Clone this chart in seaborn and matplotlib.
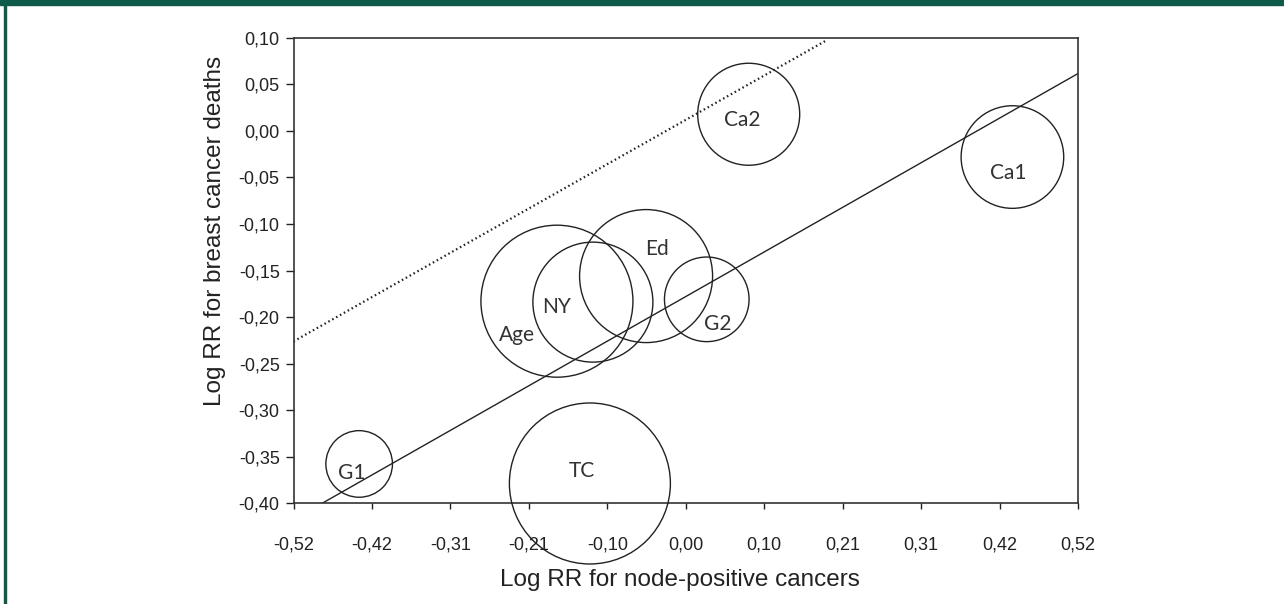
import numpy as np
import pandas as pd
import matplotlib
matplotlib.use("Agg")
import matplotlib.pyplot as plt
import seaborn as sns
from matplotlib.patches import Rectangle


# bubble data: centre (log RR node-positive, log RR deaths) and relative size
labels = ["Ca1", "Ca2", "Ed", "NY", "Age", "G2", "G1", "TC"]
log_rr_node_pos = [0.436, 0.084, -0.053, -0.124, -0.172, 0.028, -0.436, -0.128]
log_rr_deaths = [-0.028, 0.018, -0.156, -0.184, -0.183, -0.181, -0.358, -0.379]
bubble_radius = [51.3, 51.0, 66.5, 60.0, 76.0, 42.3, 33.3, 80.5]

# fitted lines: (intercept, slope, x end)
solid_fit = (-0.178, 0.458, 0.5236)
dotted_fit = (0.012, 0.455, 0.188)

x_tick_labels = ["-0,52", "-0,42", "-0,31", "-0,21", "-0,10", "0,00",
                 "0,10", "0,21", "0,31", "0,42", "0,52"]
y_tick_labels = ["-0,40", "-0,35", "-0,30", "-0,25", "-0,20", "-0,15",
                 "-0,10", "-0,05", "0,00", "0,05", "0,10"]

# label offsets from bubble centre, in pixels (right, down)
label_offsets = {
    "Ca1": (-4, 16), "Ca2": (-6, 6), "Ed": (11, -27), "NY": (-36, 5),
    "Age": (-40, 34), "G2": (11, 25), "G1": (-7, 9), "TC": (-8, -12),
}

DPI = 100
INK = "#222222"

sns.set_style("ticks")
plt.rcParams["font.family"] = ["Liberation Sans", "DejaVu Sans"]

fig = plt.figure(figsize=(12.84, 6.04), dpi=DPI)
ax = fig.add_axes([0.2286, 0.1672, 0.611, 0.7699])

# green frame of the journal figure
fig.patches.append(Rectangle((0, 1 - 5 / 604), 1, 5 / 604, transform=fig.transFigure,
                             color="#0e5b49", zorder=0))
fig.patches.append(Rectangle((4 / 1284, 0), 2 / 1284, 1, transform=fig.transFigure,
                             color="#0e5b49", zorder=0))

df = pd.DataFrame({"x": log_rr_node_pos, "y": log_rr_deaths,
                   "r": bubble_radius, "label": labels})
sizes = (2 * df["r"] * 72 / DPI) ** 2
sns.scatterplot(data=df, x="x", y="y", s=sizes, marker="o", facecolors="none",
                edgecolor=INK, linewidth=1.0, legend=False, ax=ax, zorder=3,
                clip_on=False)

xmin, xmax = -np.pi / 6, np.pi / 6
b, m, xe = solid_fit
sns.lineplot(x=[xmin, xe], y=[b + m * xmin, b + m * xe], color=INK,
             linewidth=1.0, ax=ax)
b, m, xe = dotted_fit
sns.lineplot(x=[xmin, xe], y=[b + m * xmin, b + m * xe], color=INK,
             linewidth=1.6, linestyle=(0, (0.7, 1.3)), ax=ax)

for _, row in df.iterrows():
    dx, dy = label_offsets[row["label"]]
    ax.annotate(row["label"], (row["x"], row["y"]),
                xytext=(dx * 72 / DPI, -dy * 72 / DPI), textcoords="offset points",
                ha="center", va="center", fontsize=15, color="#333333",
                family=["Lato", "DejaVu Sans"])

ax.set_xlim(xmin, xmax)
ax.set_ylim(-0.40, 0.10)
ax.set_xticks(np.linspace(xmin, xmax, 11))
ax.set_xticklabels(x_tick_labels)
ax.set_yticks(np.linspace(-0.40, 0.10, 11))
ax.set_yticklabels(y_tick_labels)
ax.tick_params(axis="x", length=4, width=1, pad=20, labelsize=13, colors="#222222")
ax.tick_params(axis="y", length=6, width=1, pad=4, labelsize=13, colors="#222222")

for side in ["top", "right", "bottom", "left"]:
    ax.spines[side].set_visible(True)
    ax.spines[side].set_linewidth(1.2)
    ax.spines[side].set_color("#333333")

ax.set_xlabel("Log RR for node-positive cancers", fontsize=17.5, color="#222222")
ax.set_ylabel("Log RR for breast cancer deaths", fontsize=17.5, color="#222222")
ax.xaxis.set_label_coords(0.492, -0.142)
ax.yaxis.set_label_coords(-0.086, 0.585)

fig.savefig("out.png", dpi=DPI)
